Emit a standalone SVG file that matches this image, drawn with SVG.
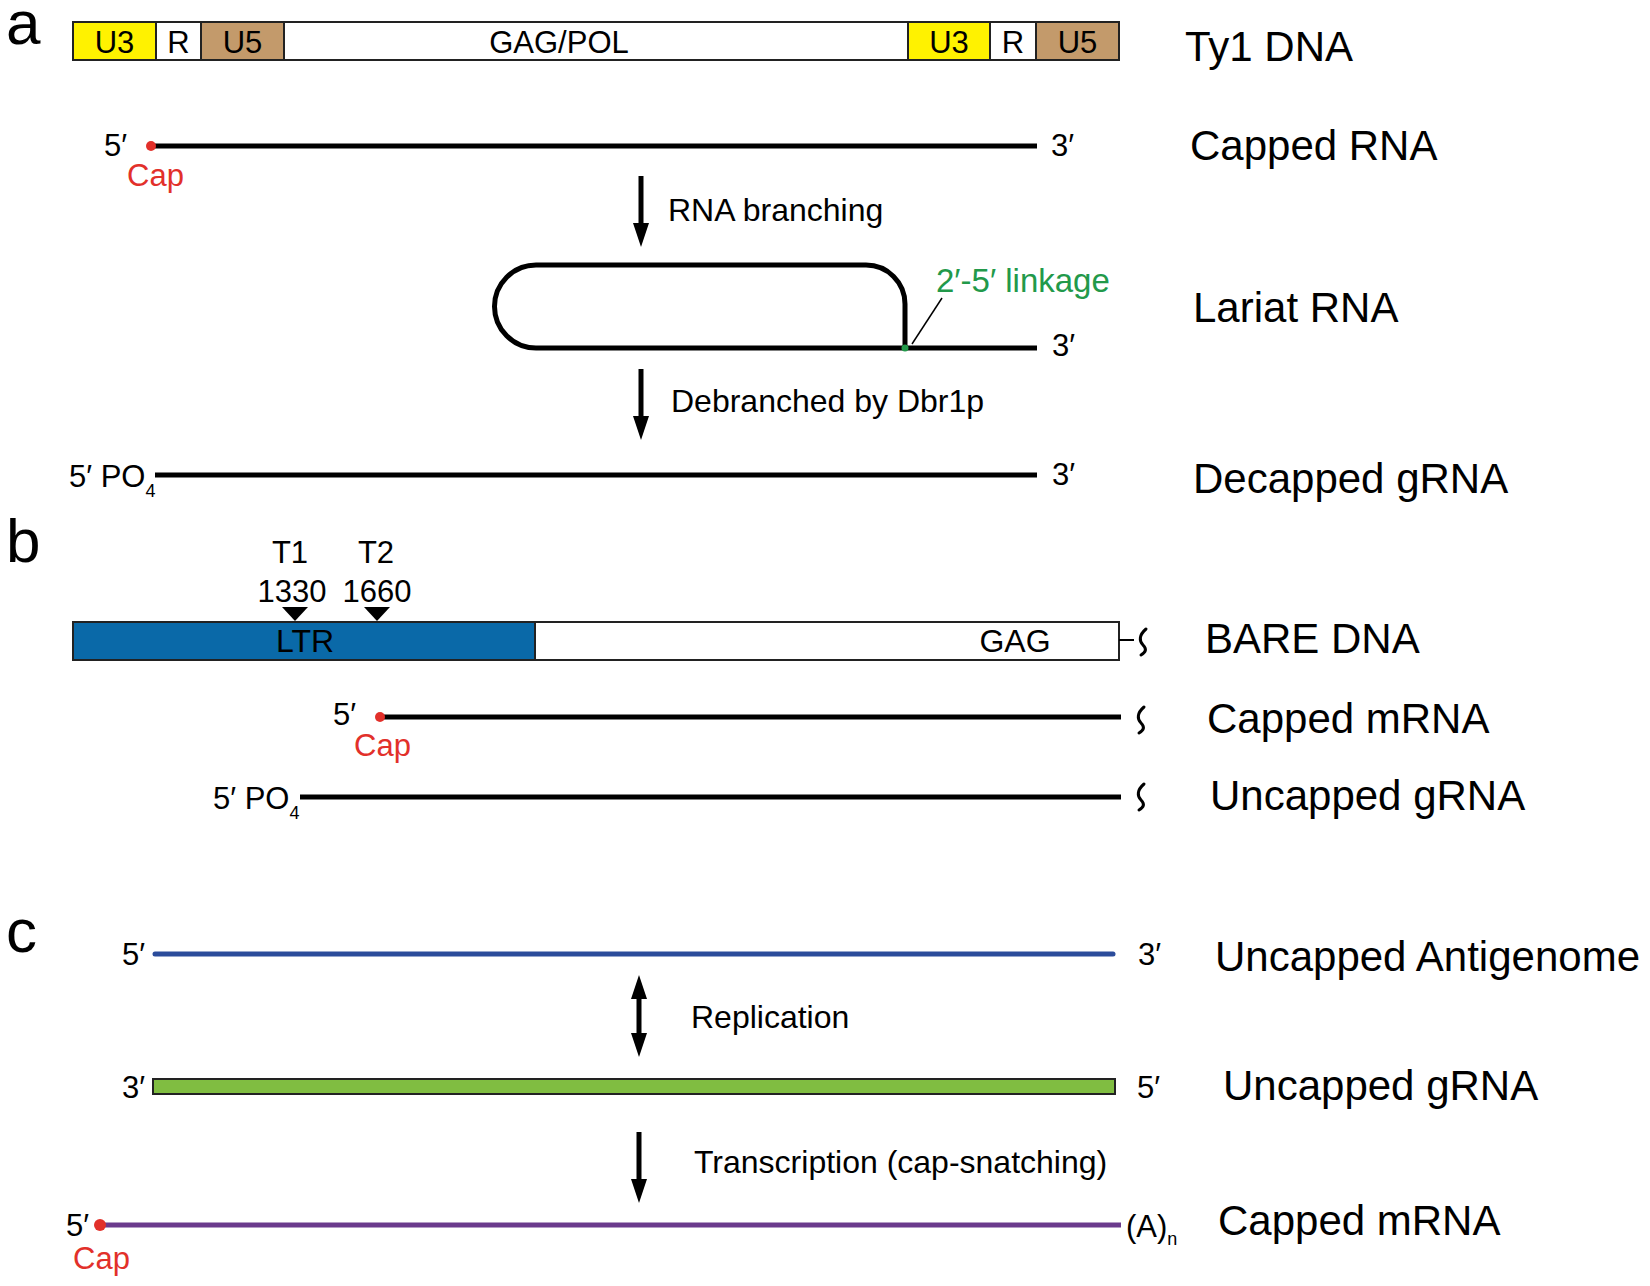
<svg xmlns="http://www.w3.org/2000/svg" width="1650" height="1286" viewBox="0 0 1650 1286">
<defs>
<style>
text{font-family:"Liberation Sans",Arial,sans-serif;fill:#000}
.panel{font-size:62px}
.lab{font-size:42px}
.sm{font-size:31px}
.mid{font-size:32px}
.num{font-size:31px}
.boxt{font-size:31px}
.red{fill:#e2302a}
.grn{fill:#22994a}
.box{stroke:#222;stroke-width:2}
.rna{fill:none;stroke:#000;stroke-width:5}
.arr{fill:none;stroke:#000;stroke-width:5}
.brk{fill:none;stroke:#000;stroke-width:3;stroke-linecap:round}
</style>
<marker id="ah" markerUnits="userSpaceOnUse" markerWidth="24" markerHeight="18" viewBox="0 0 24 18" refX="12" refY="9" orient="auto-start-reverse">
<path d="M0,1 L24,9 L0,17 z" fill="#000"/>
</marker>
</defs>
<rect width="1650" height="1286" fill="#fff"/>

<!-- panel letters -->
<text class="panel" x="6" y="44">a</text>
<text class="panel" x="6" y="562">b</text>
<text class="panel" x="6" y="952">c</text>

<!-- Panel a -->
<g id="ty1-dna">
<rect class="box" x="73" y="22" width="83" height="38" fill="#fff200"/>
<rect class="box" x="156" y="22" width="45" height="38" fill="#fff"/>
<rect class="box" x="201" y="22" width="83" height="38" fill="#c39a6b"/>
<rect class="box" x="284" y="22" width="624" height="38" fill="#fff"/>
<rect class="box" x="908" y="22" width="82" height="38" fill="#fff200"/>
<rect class="box" x="990" y="22" width="46" height="38" fill="#fff"/>
<rect class="box" x="1036" y="22" width="83" height="38" fill="#c39a6b"/>
<text class="boxt" x="114.5" y="53" text-anchor="middle">U3</text>
<text class="boxt" x="178.5" y="53" text-anchor="middle">R</text>
<text class="boxt" x="242.5" y="53" text-anchor="middle">U5</text>
<text class="boxt" x="559" y="53" text-anchor="middle">GAG/POL</text>
<text class="boxt" x="949" y="53" text-anchor="middle">U3</text>
<text class="boxt" x="1013" y="53" text-anchor="middle">R</text>
<text class="boxt" x="1077.5" y="53" text-anchor="middle">U5</text>
<text class="lab" x="1185" y="61">Ty1 DNA</text>
</g>

<g id="capped-rna-a">
<line class="rna" x1="151" y1="146" x2="1037" y2="146"/>
<circle cx="151" cy="146" r="5" fill="#e2302a"/>
<text class="sm" x="104" y="156">5′</text>
<text class="sm red" x="127" y="186">Cap</text>
<text class="sm" x="1051" y="156">3′</text>
<text class="lab" x="1190" y="160">Capped RNA</text>
</g>

<g id="lariat-rna">
<path class="rna" d="M1037 348 L536 348 A41.5 41.5 0 0 1 536 265 L866 265 A39 39 0 0 1 905 304 L905 348"/>
<circle cx="905" cy="348" r="3.5" fill="#22994a"/>
<line x1="912" y1="344" x2="942" y2="298" stroke="#000" stroke-width="1.5"/>
<text class="grn" x="936" y="292" style="font-size:33px">2′-5′ linkage</text>
<text class="sm" x="1052" y="356">3′</text>
<text class="lab" x="1193" y="322">Lariat RNA</text>
</g>

<g id="decapped-grna">
<line class="rna" x1="155" y1="475" x2="1037" y2="475"/>
<text class="sm" x="69" y="487">5′ PO<tspan dy="10" style="font-size:18px">4</tspan></text>
<text class="sm" x="1052" y="485">3′</text>
<text class="lab" x="1193" y="493">Decapped gRNA</text>
</g>

<!-- Panel b -->
<g id="bare-dna">
<rect class="box" x="73" y="622" width="462" height="38" fill="#0a69a8"/>
<rect class="box" x="535" y="622" width="584" height="38" fill="#fff"/>
<text class="mid" x="305" y="652" text-anchor="middle">LTR</text>
<text class="mid" x="1015" y="652" text-anchor="middle">GAG</text>
<line x1="1119" y1="640" x2="1134" y2="640" stroke="#000" stroke-width="2"/>
<path class="brk" d="M1146 629 C1139 635 1139 641 1143 645 C1147 649 1146 652 1141 655"/>
<path d="M282 607 L308 607 L295 621 z" fill="#000"/>
<path d="M364 607 L390 607 L377 621 z" fill="#000"/>
<text class="num" x="290" y="563" text-anchor="middle">T1</text>
<text class="num" x="376" y="563" text-anchor="middle">T2</text>
<text class="num" x="292" y="602" text-anchor="middle">1330</text>
<text class="num" x="377" y="602" text-anchor="middle">1660</text>
<text class="lab" x="1205" y="653">BARE DNA</text>
</g>

<g id="capped-mrna-b">
<line class="rna" x1="380" y1="717" x2="1121" y2="717"/>
<circle cx="380" cy="717" r="5" fill="#e2302a"/>
<text class="sm" x="333" y="725">5′</text>
<text class="sm red" x="354" y="756">Cap</text>
<path class="brk" d="M1144 707 C1137 713 1137 719 1141 723 C1145 727 1144 730 1139 733"/>
<text class="lab" x="1207" y="733">Capped mRNA</text>
</g>

<g id="uncapped-grna-b">
<line class="rna" x1="300" y1="797" x2="1121" y2="797"/>
<text class="sm" x="213" y="809">5′ PO<tspan dy="10" style="font-size:18px">4</tspan></text>
<path class="brk" d="M1144 784 C1137 790 1137 796 1141 800 C1145 804 1144 807 1139 810"/>
<text class="lab" x="1210" y="810">Uncapped gRNA</text>
</g>

<!-- Panel c -->
<g id="antigenome">
<line x1="155" y1="954" x2="1113" y2="954" stroke="#2b4c9b" stroke-width="5" stroke-linecap="round"/>
<text class="sm" x="122" y="965">5′</text>
<text class="sm" x="1138" y="965">3′</text>
<text class="lab" x="1215" y="971">Uncapped Antigenome</text>
</g>

<g id="uncapped-grna-c">
<rect x="153" y="1079" width="962" height="15" fill="#80bd41" stroke="#222" stroke-width="2"/>
<text class="sm" x="122" y="1098">3′</text>
<text class="sm" x="1137" y="1098">5′</text>
<text class="lab" x="1223" y="1100">Uncapped gRNA</text>
</g>

<g id="capped-mrna-c">
<line x1="100" y1="1225" x2="1121" y2="1225" stroke="#6b3a8c" stroke-width="5"/>
<circle cx="100" cy="1225" r="6" fill="#e2302a"/>
<text class="sm" x="66" y="1236">5′</text>
<text class="sm red" x="73" y="1269">Cap</text>
<text class="sm" x="1126" y="1237">(A)<tspan dy="8" style="font-size:18px">n</tspan></text>
<text class="lab" x="1218" y="1235">Capped mRNA</text>
</g>

<!-- connectors -->
<g id="connectors">
<line class="arr" x1="641" y1="176" x2="641" y2="235" marker-end="url(#ah)"/>
<text class="mid" x="668" y="221">RNA branching</text>
<line class="arr" x1="641" y1="369" x2="641" y2="428" marker-end="url(#ah)"/>
<text class="mid" x="671" y="412">Debranched by Dbr1p</text>
<line class="arr" x1="639" y1="987" x2="639" y2="1045" marker-start="url(#ah)" marker-end="url(#ah)"/>
<text class="mid" x="691" y="1028">Replication</text>
<line class="arr" x1="639" y1="1132" x2="639" y2="1191" marker-end="url(#ah)"/>
<text class="mid" x="694" y="1173">Transcription (cap-snatching)</text>
</g>
</svg>
